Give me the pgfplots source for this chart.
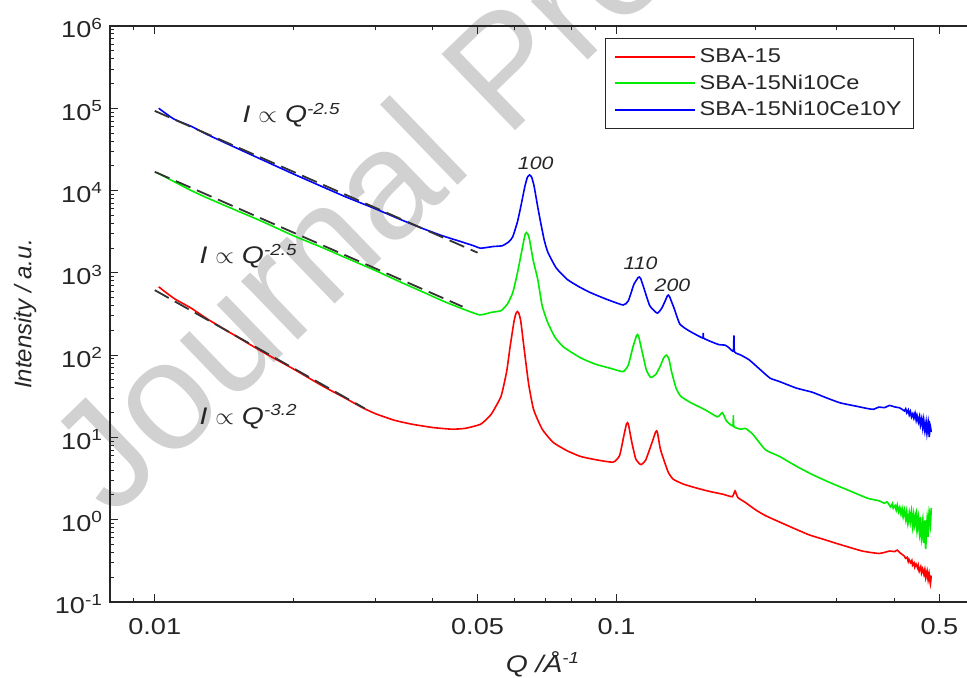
\documentclass[border=0pt]{standalone}
\usepackage{fontspec}
\setmainfont{Liberation Sans}[FakeStretch=1.18]
\newfontfamily\plainfont{Liberation Sans}
\usepackage{pgfplots}
\pgfplotsset{compat=1.18}
\definecolor{txt}{HTML}{262626}
\definecolor{mred}{RGB}{255,0,0}
\definecolor{mgreen}{RGB}{0,235,0}
\definecolor{mblue}{RGB}{0,0,255}
\begin{document}
\begin{tikzpicture}
\node[anchor=base west, rotate=44, text=black!18, font=\plainfont\fontsize{77}{77}\selectfont, inner sep=0pt] at (1pt,41pt) {Journal Pre-proof};
\begin{axis}[
 at={(0,0)}, anchor=south west,
 scale only axis, width=433pt, height=288pt,
 xmode=log, ymode=log,
 xmin=0.008, xmax=0.6, ymin=0.1, ymax=1e6,
 xtick={0.01,0.05,0.1,0.5}, xticklabels={0.01,0.05,0.1,0.5},
 minor xtick={0.009,0.02,0.03,0.04,0.06,0.07,0.08,0.09,0.2,0.3,0.4,0.6},
 ytick={0.1,1,10,100,1000,10000,100000,1000000},
 yticklabels={10\textsuperscript{-1},10\textsuperscript{0},10\textsuperscript{1},10\textsuperscript{2},10\textsuperscript{3},10\textsuperscript{4},10\textsuperscript{5},10\textsuperscript{6}},
 minor ytick={0.2,0.3,0.4,0.5,0.6,0.7,0.8,0.9,2,3,4,5,6,7,8,9,20,30,40,50,60,70,80,90,200,300,400,500,600,700,800,900,2000,3000,4000,5000,6000,7000,8000,9000,20000,30000,40000,50000,60000,70000,80000,90000,200000,300000,400000,500000,600000,700000,800000,900000},
 tick align=inside, major tick length=3.8pt, minor tick length=2pt,
 tick style={txt, line width=0.5pt},
 axis line style={txt, line width=0.6pt},
 tick label style={font=\fontsize{11.5}{13}\selectfont, text=txt},
 xticklabel style={yshift=-4.5pt},
 yticklabel style={yshift=-1pt},
 xlabel={\itshape Q /Å\textsuperscript{-1}},
 ylabel={\plainfont\itshape Intensity / a.u.},
 x label style={at={(axis description cs:0.5,-0.108)}, anchor=center, font=\fontsize{12}{14}\selectfont, text=txt},
 y label style={at={(axis description cs:-0.098,0.5)}, anchor=center, rotate=0, font=\fontsize{12}{14}\selectfont, text=txt},
 legend style={at={(axis description cs:0.5716,0.979)}, anchor=north west, draw=txt, line width=0.6pt, font=\fontsize{10}{12}\selectfont, text=txt, inner xsep=4pt, inner ysep=3pt, row sep=0.5pt, cells={anchor=west}},
 legend image code/.code={\draw[#1] (0pt,0pt) -- (40pt,0pt);},
 legend cell align=left,
]
\addlegendimage{mred, line width=1pt}
\addlegendentry{SBA-15}
\addlegendimage{mgreen, line width=1pt}
\addlegendentry{SBA-15Ni10Ce}
\addlegendimage{mblue, line width=1pt}
\addlegendentry{SBA-15Ni10Ce10Y}
% SBA-15
\addplot[mred, line width=0.8pt, smooth, tension=0.3, forget plot] coordinates {
(0.0102,676)(0.011,490)(0.012,372)(0.013,275)(0.015,170)(0.017,112)(0.020,67.6)(0.023,42.7)(0.026,29.5)(0.028,23.4)(0.030,19.5)(0.033,16.2)(0.036,14.5)(0.040,13.2)(0.044,12.6)(0.047,12.9)(0.0508,14.5)(0.0535,19.1)(0.0562,31.6)(0.0578,63.1)(0.0588,126)(0.0600,263)(0.0606,325)(0.0610,339)(0.0614,325)(0.0620,263)(0.0630,126)(0.0645,44.7)(0.0661,21.9)(0.069,12.6)(0.0729,8.71)(0.078,6.92)(0.0834,5.89)(0.090,5.37)(0.0983,5.01)(0.1015,6.03)(0.1035,10.0)(0.1050,14.5)(0.1056,15.1)(0.1062,14.0)(0.1078,8.91)(0.110,5.50)(0.1128,4.68)(0.1155,5.25)(0.119,8.32)(0.1215,11.7)(0.1221,12.0)(0.1227,11.2)(0.1245,7.08)(0.1293,3.80)(0.1328,3.09)(0.14,2.69)(0.15,2.40)(0.16,2.19)(0.170,2.04)(0.178,1.905)(0.1805,2.239)(0.183,1.862)(0.19,1.622)(0.20,1.318)(0.21,1.122)(0.23,0.891)(0.26,0.661)(0.28,0.58)(0.30,0.513)(0.32,0.46)(0.34,0.417)(0.355,0.40)(0.37,0.389)(0.38,0.40)(0.39,0.417)(0.4,0.41)(0.405,0.427)(0.41,0.40)(0.415,0.38)(0.42,0.36)(0.4222,0.34)(0.4255,0.35)(0.428,0.31)(0.4296,0.33)(0.4331,0.30)(0.4358,0.32)(0.4372,0.28)(0.4405,0.30)(0.4421,0.265)(0.4449,0.29)(0.4483,0.26)(0.4498,0.28)(0.4521,0.235)(0.4556,0.27)(0.4573,0.225)(0.4597,0.255)(0.4628,0.215)(0.4649,0.25)(0.4671,0.195)(0.4702,0.24)(0.4726,0.185)(0.4748,0.225)(0.4779,0.165)(0.48,0.21)
};
% SBA-15Ni10Ce
\addplot[mgreen, line width=0.8pt, smooth, tension=0.3, forget plot] coordinates {
(0.0101,16600)(0.011,12880)(0.012,10000)(0.013,8128)(0.015,5754)(0.017,4266)(0.020,2818)(0.023,2042)(0.026,1514)(0.030,1072)(0.034,776)(0.038,589)(0.042,457)(0.046,372)(0.0505,309)(0.0535,331)(0.0562,347)(0.058,417)(0.0596,575)(0.0610,1000)(0.0620,1585)(0.0630,2512)(0.0634,2950)(0.0638,3090)(0.0643,2950)(0.0648,2512)(0.0660,1413)(0.0675,832)(0.069,398)(0.0709,251)(0.0735,166)(0.0767,126)(0.0834,93.3)(0.090,77.6)(0.097,69.2)(0.1033,63.1)(0.106,75.9)(0.1085,126)(0.1105,174)(0.111,178)(0.1116,170)(0.1135,112)(0.116,66.1)(0.1185,53.7)(0.1215,58)(0.1245,75)(0.1265,93)(0.1282,100)(0.1298,90)(0.1315,63.1)(0.1345,39.8)(0.1377,31.6)(0.145,26.3)(0.155,21.9)(0.1653,17.8)(0.1694,20.0)(0.173,15.8)(0.1785,13.8)(0.179,18.6)(0.1795,13.5)(0.186,12.6)(0.190,12.9)(0.197,11.0)(0.21,7.08)(0.225,5.9)(0.245,4.47)(0.265,3.55)(0.29,2.82)(0.32,2.24)(0.35,1.82)(0.37,1.70)(0.38,1.585)(0.385,1.65)(0.3893,1.52)(0.3921,1.43)(0.3957,1.58)(0.3972,1.38)(0.4008,1.49)(0.4031,1.30)(0.4052,1.52)(0.4079,1.24)(0.4103,1.42)(0.4128,1.16)(0.4151,1.37)(0.4172,1.08)(0.4198,1.33)(0.4226,1.00)(0.4247,1.28)(0.4271,0.88)(0.4302,1.22)(0.4323,0.93)(0.4349,1.30)(0.4378,0.78)(0.4398,1.18)(0.4421,0.85)(0.4453,1.24)(0.4472,0.72)(0.4499,1.12)(0.4527,0.66)(0.4548,1.08)(0.4571,0.58)(0.4603,1.02)(0.4621,0.52)(0.4652,0.98)(0.4668,0.44)(0.4705,1.08)(0.4722,0.62)(0.4751,1.28)(0.4778,0.82)(0.48,1.38)
};
% SBA-15Ni10Ce10Y
\addplot[mblue, line width=0.8pt, smooth, tension=0.3, forget plot] coordinates {
(0.0102,100000)(0.011,74100)(0.012,60300)(0.013,47900)(0.015,33100)(0.017,24000)(0.020,15850)(0.023,11220)(0.026,8318)(0.030,6026)(0.034,4467)(0.038,3467)(0.042,2818)(0.046,2399)(0.049,2138)(0.0508,1995)(0.054,2089)(0.0566,2138)(0.0585,2399)(0.0596,2754)(0.0610,4169)(0.0620,6310)(0.0633,11220)(0.0641,14500)(0.0648,15490)(0.0655,14500)(0.0663,11220)(0.0675,6310)(0.0685,4074)(0.0697,2512)(0.0710,1778)(0.074,1148)(0.0782,832)(0.083,676)(0.0878,575)(0.095,479)(0.1033,407)(0.106,457)(0.109,724)(0.1114,880)(0.112,891)(0.1127,860)(0.1145,661)(0.118,398)(0.1225,324)(0.1255,380)(0.1289,530)(0.1295,537)(0.1302,515)(0.133,380)(0.137,240)(0.143,200)(0.1535,162)(0.154,186)(0.1545,160)(0.166,135)(0.172,132)(0.176,120)(0.179,112)(0.1795,174)(0.180,110)(0.186,100)(0.194,87.1)(0.205,66.1)(0.215,52.5)(0.225,47.9)(0.245,39.8)(0.265,35.5)(0.285,30.2)(0.305,26.3)(0.33,24.0)(0.35,22.4)(0.36,22.0)(0.37,23.4)(0.38,23.0)(0.39,24.5)(0.40,23.5)(0.41,22.9)(0.415,22.0)(0.4198,21.0)(0.4226,22.3)(0.4249,19.8)(0.4281,21.6)(0.4302,18.7)(0.4327,20.8)(0.4351,17.6)(0.4379,19.5)(0.4402,17.0)(0.4428,19.9)(0.4453,16.1)(0.4471,18.6)(0.4502,15.2)(0.4529,18.2)(0.4548,14.0)(0.4577,17.2)(0.4601,12.9)(0.4622,16.7)(0.4651,11.8)(0.4679,15.6)(0.4698,11.2)(0.4728,15.7)(0.4753,10.1)(0.4771,14.3)(0.48,11.6)
};
% power-law fits
\addplot[black!80, line width=0.9pt, dash pattern=on 8pt off 3.5pt, forget plot] coordinates {(0.01,93000)(0.050,1760)};
\addplot[black!80, line width=0.9pt, dash pattern=on 8pt off 3.5pt, forget plot] coordinates {(0.01,16900)(0.0464,389)};
\addplot[black!80, line width=0.9pt, dash pattern=on 8pt off 3.5pt, forget plot] coordinates {(0.01,617)(0.0285,22.5)};
\node[anchor=base west, font=\fontsize{12}{14}\selectfont\itshape, text=txt] at (axis cs:0.01497,66500) {I $\propto$ Q\textsuperscript{-2.5}};
\node[anchor=base west, font=\fontsize{12}{14}\selectfont\itshape, text=txt] at (axis cs:0.01208,1290) {I $\propto$ Q\textsuperscript{-2.5}};
\node[anchor=base west, font=\fontsize{12}{14}\selectfont\itshape, text=txt] at (axis cs:0.01208,14.4) {I $\propto$ Q\textsuperscript{-3.2}};
\node[anchor=base, font=\fontsize{9}{10}\selectfont\itshape, text=txt] at (axis cs:0.0668,17800) {100};
\node[anchor=base, font=\fontsize{9}{10}\selectfont\itshape, text=txt] at (axis cs:0.1127,1100) {110};
\node[anchor=base, font=\fontsize{9}{10}\selectfont\itshape, text=txt] at (axis cs:0.1321,592) {200};
\end{axis}
\pgfresetboundingbox
\path (-55pt,-37.5pt) rectangle (428.5pt,301pt);
\end{tikzpicture}
\end{document}
